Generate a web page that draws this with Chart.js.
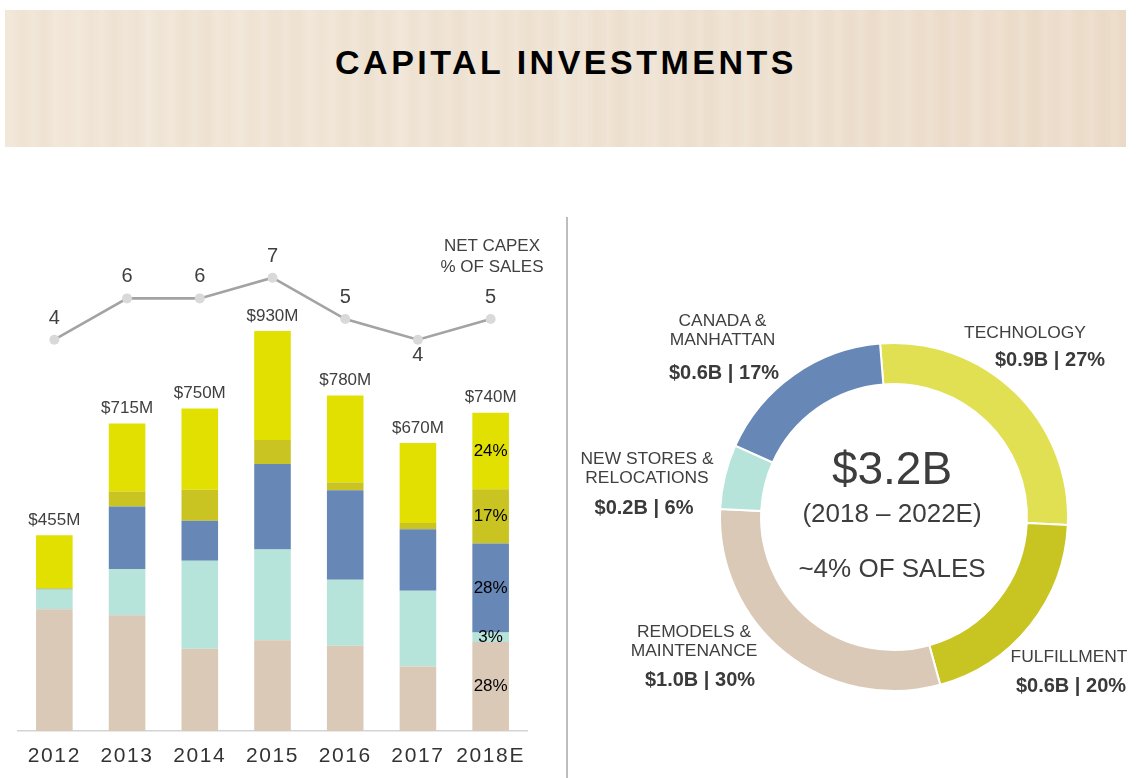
<!DOCTYPE html>
<html><head><meta charset="utf-8">
<script src="https://cdn.jsdelivr.net/npm/chart.js@4.4.1/dist/chart.umd.min.js"></script>
<style>
html,body{margin:0;padding:0;background:#fff;}
body{width:1137px;height:778px;position:relative;overflow:hidden;font-family:"Liberation Sans",Arial,sans-serif;color:#404040;}
#banner{position:absolute;left:5px;top:10px;width:1121px;height:137px;
 background:
  repeating-linear-gradient(90deg, rgba(255,255,255,0) 0px, rgba(255,255,255,0.10) 5px, rgba(255,255,255,0) 11px, rgba(190,160,130,0.03) 17px, rgba(255,255,255,0) 23px),
  repeating-linear-gradient(90deg, rgba(255,255,255,0) 0px, rgba(200,175,150,0.035) 37px, rgba(255,255,255,0.06) 61px, rgba(255,255,255,0) 83px),
  linear-gradient(90deg,#f1e6d7 0%,#efe3d3 50%,#ecdcca 100%);}
#title{position:absolute;left:566px;top:62px;transform:translate(-50%,-50%);font-weight:bold;font-size:34px;letter-spacing:3.5px;color:#000;white-space:nowrap;}
#divider{position:absolute;left:566px;top:217px;width:2px;height:561px;background:#bdbdbd;}
.lbl{position:absolute;transform:translate(-50%,-50%);white-space:nowrap;text-align:center;}
.name{font-size:17.4px;line-height:19px;color:#404040;}
.val{font-size:20px;font-weight:bold;color:#3a3a3a;}
#barCanvas{position:absolute;left:0;top:160px;}
#donutCanvas{position:absolute;left:706px;top:329px;}
</style>
</head>
<body>
<div id="banner"></div>
<div id="title">CAPITAL INVESTMENTS</div>
<div id="divider"></div>
<canvas id="barCanvas" width="565" height="618"></canvas>
<canvas id="donutCanvas" width="376" height="376"></canvas>
<div id="capexTitle" class="lbl name" style="left:492px;top:256px;font-size:17px;line-height:21px;">NET CAPEX<br>% OF SALES</div>
<div id="overlay"></div>
<script>
// ---------- Bar chart data ----------
const years = ['2012','2013','2014','2015','2016','2017','2018E'];
const remodels        = [283, 269, 191, 211, 198, 150, 207];
const newStores       = [ 46, 108, 205, 211, 154, 176,  22];
const canadaManhattan = [  2, 145,  93, 199, 208, 143, 207];
const fulfillment     = [  0,  35,  72,  56,  18,  15, 126];
const technology      = [124, 158, 189, 253, 202, 186, 178];
const totalLabels = ['$455M','$715M','$750M','$930M','$780M','$670M','$740M'];
const capexPct = [4, 6, 6, 7, 5, 4, 5];
const mix2018 = ['28%','3%','28%','17%','24%'];

// ---------- Donut data ----------
const donutCategories = [['TECHNOLOGY'],['FULFILLMENT'],['REMODELS &','MAINTENANCE'],['NEW STORES &','RELOCATIONS'],['CANADA &','MANHATTAN']];
const donutAmounts = [0.9, 0.6, 1.0, 0.2, 0.6];
const donutShares = [27, 20, 30, 6, 17];
const donutCenter = ['$3.2B', '(2018 – 2022E)', '~4% OF SALES'];

// ---------- styles / layout ----------
const FONT = '"Liberation Sans", Arial, sans-serif';
Chart.defaults.font.family = FONT;
const colTan = '#dbc9b7', colMint = '#b6e4da', colBlue = '#6787b6', colOlive = '#c9c421', colYellow = '#e1e000';
const donutColors = ['#e1e052', '#c8c421', colTan, colMint, colBlue];
const donutLabelPos = [
  {name:[1025,331.7], value:[1050,359.3]},
  {name:[1069,656],   value:[1071,685]},
  {name:[694,641],    value:[700,679]},
  {name:[647,467.7],  value:[644,507.3]},
  {name:[722.5,329.7],value:[724,371.7]}
];
const donutCenterPos = [[892,468,46],[892,513,26],[892,568,26]];

const barLabels = {
  id: 'barLabels',
  beforeDraw(chart){ chart.ctx.letterSpacing = '1.6px'; },
  beforeDatasetsDraw(chart){ chart.ctx.letterSpacing = '0px'; },
  afterDatasetsDraw(chart){
    const ctx = chart.ctx;
    ctx.save();
    ctx.textAlign = 'center';
    ctx.textBaseline = 'middle';
    ctx.fillStyle = '#404040';
    ctx.font = '17px ' + FONT;
    const topMeta = chart.getDatasetMeta(4);
    topMeta.data.forEach((bar, i) => ctx.fillText(totalLabels[i], bar.x, bar.y - 15));
    ctx.font = '20px ' + FONT;
    const lineMeta = chart.getDatasetMeta(5);
    lineMeta.data.forEach((pt, i) => {
      const v = capexPct[i], prev = capexPct[i-1], next = capexPct[i+1];
      const below = prev !== undefined && next !== undefined && v < prev && v < next;
      ctx.fillText(String(v), pt.x, below ? pt.y + 16 : pt.y - 21.5);
    });
    ctx.fillStyle = '#000';
    ctx.font = '17px ' + FONT;
    const last = years.length - 1;
    for (let d = 0; d < 5; d++) {
      const el = chart.getDatasetMeta(d).data[last];
      ctx.fillText(mix2018[d], el.x, (el.y + el.base) / 2);
    }
    ctx.restore();
  }
};

const barDs = (label, data, color) => ({label, data, backgroundColor: color, borderWidth: 0, stack: 's', yAxisID: 'y', barPercentage: 0.503, categoryPercentage: 1.0, order: 2});

new Chart(document.getElementById('barCanvas'), {
  type: 'bar',
  data: {
    labels: years,
    datasets: [
      barDs('Remodels & Maintenance', remodels, colTan),
      barDs('New Stores & Relocations', newStores, colMint),
      barDs('Canada & Manhattan', canadaManhattan, colBlue),
      barDs('Fulfillment', fulfillment, colOlive),
      barDs('Technology', technology, colYellow),
      {type: 'line', label: 'Net capex % of sales', data: capexPct, yAxisID: 'y2',
       borderColor: '#a3a3a3', borderWidth: 2.6, tension: 0,
       pointRadius: 5, pointBackgroundColor: '#d9d9d9', pointBorderWidth: 0, order: 1}
    ]
  },
  options: {
    responsive: false, animation: false, events: [],
    layout: {padding: {left: 18, right: 38, top: 71, bottom: 0}},
    plugins: {legend: {display: false}, tooltip: {enabled: false}},
    scales: {
      x: {stacked: true, offset: true,
          grid: {display: false, drawTicks: false},
          border: {display: true, color: '#d4d4d4', width: 1.5},
          ticks: {color: '#333', font: {size: 21}, padding: 13, maxRotation: 0, autoSkip: false},
          afterFit(s){ s.height = 47; }},
      y: {stacked: true, display: false, min: 0, max: 1162.8},
      y2: {display: false, min: -14.93, max: 9.26}
    }
  },
  plugins: [barLabels]
});

new Chart(document.getElementById('donutCanvas'), {
  type: 'doughnut',
  data: {
    labels: donutCategories.map(a => a.join(' ')),
    datasets: [{data: donutShares, backgroundColor: donutColors, borderColor: '#fff', borderWidth: 2}]
  },
  options: {
    responsive: false, animation: false, events: [],
    rotation: -4.6, cutout: '76.4%', radius: 174,
    layout: {padding: 14},
    plugins: {legend: {display: false}, tooltip: {enabled: false}}
  }
});

// ---------- donut text (real HTML text) ----------
const overlay = document.getElementById('overlay');
donutCategories.forEach((lines, i) => {
  const p = donutLabelPos[i];
  const n = document.createElement('div');
  n.className = 'lbl name';
  n.style.left = p.name[0] + 'px'; n.style.top = p.name[1] + 'px';
  n.innerHTML = lines.join('<br>');
  overlay.appendChild(n);
  const v = document.createElement('div');
  v.className = 'lbl val';
  v.style.left = p.value[0] + 'px'; v.style.top = p.value[1] + 'px';
  v.textContent = '$' + donutAmounts[i].toFixed(1) + 'B | ' + donutShares[i] + '%';
  overlay.appendChild(v);
});
donutCenter.forEach((t, i) => {
  const [x, y, fs] = donutCenterPos[i];
  const d = document.createElement('div');
  d.className = 'lbl';
  d.style.left = x + 'px'; d.style.top = y + 'px';
  d.style.fontSize = fs + 'px'; d.style.color = '#3d3d3d';
  d.textContent = t;
  overlay.appendChild(d);
});
</script>
</body></html>
